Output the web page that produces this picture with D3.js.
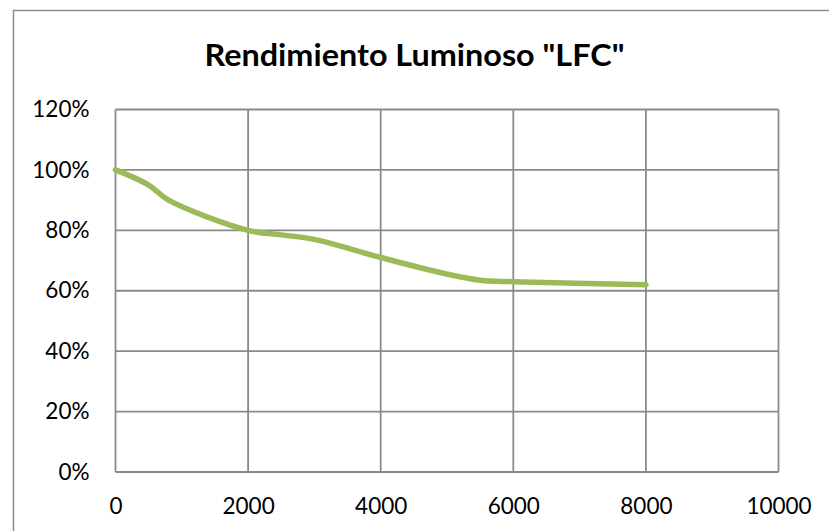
<!DOCTYPE html>
<html>
<head>
<meta charset="utf-8">
<script src="https://cdn.jsdelivr.net/npm/d3@7"></script>
<style>
  html, body { margin: 0; padding: 0; background: #fff; }
  svg { display: block; }
</style>
</head>
<body>
<svg id="chart" width="829" height="531"></svg>
<script>
// Light output over operating hours
const hours = [0, 500, 800, 2000, 2500, 3000, 4000, 5000, 5500, 6000, 8000];
const output = [1.00, 0.95, 0.90, 0.80, 0.785, 0.77, 0.71, 0.655, 0.635, 0.63, 0.62];
const xTicks = [0, 2000, 4000, 6000, 8000, 10000];
const yTicks = [0, 0.2, 0.4, 0.6, 0.8, 1.0, 1.2];
const title = 'Rendimiento Luminoso "LFC"';

const W = 829, H = 531;
const plot = { left: 115.5, right: 778.5, top: 109.5, bottom: 472 };
const font = "Lato, 'Open Sans', sans-serif";
const gridColor = "#8a8a8a";

const svg = d3.select("#chart");

// chart frame
svg.append("rect")
  .attr("x", 13.5).attr("y", 10.5)
  .attr("width", W).attr("height", H)
  .attr("fill", "#fff")
  .attr("stroke", "#8c8c8c")
  .attr("stroke-width", 1.5);

const x = d3.scaleLinear().domain([0, 10000]).range([plot.left, plot.right]);
const y = d3.scaleLinear().domain([0, 1.2]).range([plot.bottom, plot.top]);

// gridlines
const grid = svg.append("g");
grid.selectAll("line.h").data(yTicks).join("line")
  .attr("x1", plot.left).attr("x2", plot.right)
  .attr("y1", d => y(d)).attr("y2", d => y(d))
  .attr("stroke", gridColor).attr("stroke-width", 1.8);
grid.selectAll("line.v").data(xTicks).join("line")
  .attr("y1", plot.top).attr("y2", plot.bottom)
  .attr("x1", d => x(d)).attr("x2", d => x(d))
  .attr("stroke", gridColor).attr("stroke-width", 1.8);

// y axis labels
const yAxis = d3.axisLeft(y).tickValues(yTicks)
  .tickFormat(d3.format(".0%")).tickSize(0).tickPadding(26);
svg.append("g").attr("transform", `translate(${plot.left},0)`).call(yAxis)
  .call(g => g.select(".domain").remove())
  .call(g => g.selectAll("text")
    .attr("font-family", font).attr("font-size", 22.5).attr("fill", "#000"));

// x axis labels
const xAxis = d3.axisBottom(x).tickValues(xTicks)
  .tickFormat(d3.format("d")).tickSize(0).tickPadding(26);
svg.append("g").attr("transform", `translate(0,${plot.bottom})`).call(xAxis)
  .call(g => g.select(".domain").remove())
  .call(g => g.selectAll("text")
    .attr("font-family", font).attr("font-size", 22.5).attr("fill", "#000"));

// series line
const data = hours.map((h, i) => [h, output[i]]);
const line = d3.line()
  .x(d => x(d[0])).y(d => y(d[1]))
  .curve(d3.curveCatmullRom.alpha(0.5));
svg.append("path")
  .datum(data)
  .attr("d", line)
  .attr("fill", "none")
  .attr("stroke", "#9bbb59")
  .attr("stroke-width", 5.5)
  .attr("stroke-linejoin", "round")
  .attr("stroke-linecap", "round");

// title
svg.append("text")
  .attr("x", 414.5).attr("y", 66)
  .attr("text-anchor", "middle")
  .attr("font-family", font)
  .attr("font-weight", "bold")
  .attr("font-size", 31)
  .attr("textLength", 420)
  .attr("lengthAdjust", "spacingAndGlyphs")
  .attr("fill", "#000")
  .text(title);
</script>
</body>
</html>
